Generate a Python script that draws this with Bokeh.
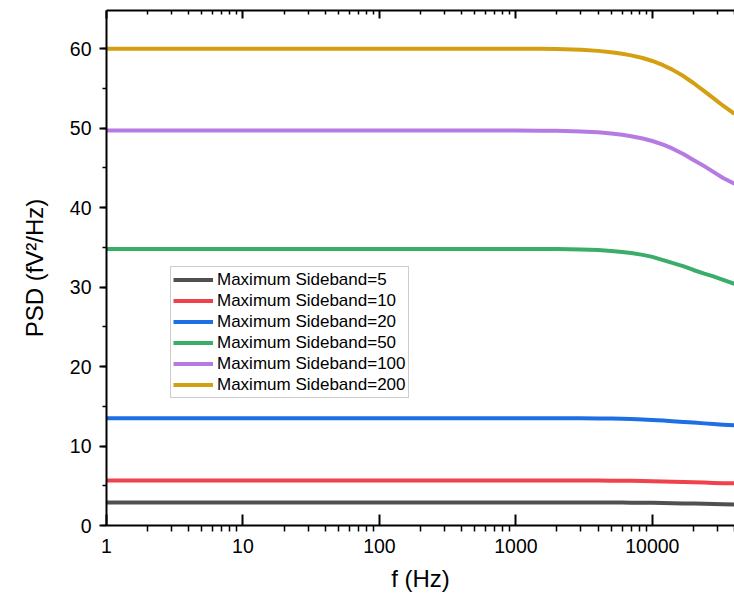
from bokeh.plotting import figure
from bokeh.models import (LogAxis, FixedTicker, Range1d, SingleIntervalTicker,
                          CustomJSTickFormatter, Legend, LegendItem)
from bokeh.embed import file_html
from bokeh.resources import INLINE

# ---- data ----
freq = [1, 10, 100, 1000, 1500, 2000, 3000, 4000, 5000, 6000, 7000, 8500,
        10000, 12000, 14000, 17000, 20000, 24000, 28000, 33000, 40000]
psd_5 = [2.9, 2.9, 2.9, 2.9, 2.9, 2.9, 2.9, 2.89, 2.89, 2.88, 2.87, 2.86,
         2.85, 2.83, 2.81, 2.78, 2.76, 2.73, 2.7, 2.67, 2.64]
psd_10 = [5.66, 5.66, 5.66, 5.66, 5.66, 5.66, 5.65, 5.65, 5.64, 5.63, 5.62, 5.6,
          5.58, 5.55, 5.52, 5.48, 5.45, 5.4, 5.36, 5.33, 5.3]
psd_20 = [13.5, 13.5, 13.5, 13.5, 13.5, 13.5, 13.49, 13.47, 13.45, 13.42, 13.39, 13.34,
          13.28, 13.2, 13.13, 13.03, 12.95, 12.85, 12.76, 12.68, 12.6]
psd_50 = [34.8, 34.8, 34.8, 34.8, 34.79, 34.78, 34.74, 34.66, 34.55, 34.42, 34.28, 34.05,
          33.8, 33.4, 33.05, 32.6, 32.15, 31.7, 31.35, 30.9, 30.4]
psd_100 = [49.7, 49.7, 49.7, 49.7, 49.68, 49.67, 49.59, 49.47, 49.32, 49.16, 48.98, 48.7,
           48.38, 47.92, 47.44, 46.72, 46.0, 45.22, 44.5, 43.72, 43.0]
psd_200 = [60.0, 60.0, 60.0, 60.0, 59.98, 59.96, 59.87, 59.72, 59.55, 59.36, 59.15, 58.82,
           58.45, 57.92, 57.36, 56.52, 55.68, 54.66, 53.78, 52.82, 51.8]

series_labels = ["Maximum Sideband=5", "Maximum Sideband=10", "Maximum Sideband=20",
                 "Maximum Sideband=50", "Maximum Sideband=100", "Maximum Sideband=200"]
series_values = [psd_5, psd_10, psd_20, psd_50, psd_100, psd_200]
series_colors = ["#505050", "#f0424a", "#1f6fe4", "#3aad6a", "#b67be2", "#d4a012"]

x_major_ticks = [1, 10, 100, 1000, 10000]
x_minor_ticks = [m * d for d in [1, 10, 100, 1000, 10000] for m in range(2, 10)]

FONT = "Liberation Sans"

p = figure(width=734, height=600, x_axis_type="log",
           x_range=Range1d(1, 40000), y_range=Range1d(0, 64.8),
           output_backend="svg", toolbar_location=None,
           min_border_left=106, min_border_right=0, min_border_top=10,
           min_border_bottom=75)
p.outline_line_color = None
p.xgrid.visible = False
p.ygrid.visible = False
p.background_fill_color = "white"

renderers = []
for vals, col in zip(series_values, series_colors):
    r = p.line(freq, vals, line_color=col, line_width=4, line_join="round")
    renderers.append(r)

# bottom axis
xa = p.xaxis[0]
xa.ticker = FixedTicker(ticks=x_major_ticks, minor_ticks=x_minor_ticks)
xa.formatter = CustomJSTickFormatter(code="return tick.toFixed(0);")
xa.axis_label = "f (Hz)"
xa.axis_label_text_font = FONT
xa.axis_label_text_font_style = "normal"
xa.axis_label_text_font_size = "24px"
xa.axis_label_text_color = "black"
xa.axis_label_standoff = 9
xa.major_label_text_font = FONT
xa.major_label_text_font_size = "19.5px"
xa.major_label_text_color = "black"
xa.major_label_standoff = 7
xa.major_tick_in = 11
xa.major_tick_out = 0
xa.minor_tick_in = 0
xa.minor_tick_out = 6
xa.axis_line_width = 2
xa.major_tick_line_width = 2
xa.minor_tick_line_width = 1.5

# top axis (no labels)
ta = LogAxis(ticker=FixedTicker(ticks=x_major_ticks, minor_ticks=x_minor_ticks),
             formatter=CustomJSTickFormatter(code="return '';"),
             major_label_text_font_size="1px", major_label_standoff=0)
ta.major_tick_in = 8
ta.major_tick_out = 0
ta.minor_tick_in = 4
ta.minor_tick_out = 0
ta.axis_line_width = 2
ta.major_tick_line_width = 2
ta.minor_tick_line_width = 1.5
p.add_layout(ta, "above")

# left axis
ya = p.yaxis[0]
ya.ticker = SingleIntervalTicker(interval=10, num_minor_ticks=2)
ya.axis_label = "PSD (fV²/Hz)"
ya.axis_label_text_font = FONT
ya.axis_label_text_font_style = "normal"
ya.axis_label_text_font_size = "24px"
ya.axis_label_text_color = "black"
ya.axis_label_standoff = 19
ya.major_label_text_font = FONT
ya.major_label_text_font_size = "19.5px"
ya.major_label_text_color = "black"
ya.major_label_standoff = 8
ya.major_tick_in = 0
ya.major_tick_out = 7
ya.minor_tick_in = 0
ya.minor_tick_out = 4
ya.axis_line_width = 2
ya.major_tick_line_width = 2
ya.minor_tick_line_width = 1.5

legend = Legend(items=[LegendItem(label=l, renderers=[r]) for l, r in zip(series_labels, renderers)],
                location=(64, 127))
legend.label_text_font = FONT
legend.label_text_font_size = "17px"
legend.label_text_color = "black"
legend.glyph_width = 40
legend.glyph_height = 21
legend.label_height = 21
legend.label_standoff = 4
legend.spacing = 0
legend.padding = 2
legend.margin = 0
legend.border_line_color = "#999999"
legend.border_line_width = 1.5
legend.background_fill_alpha = 1
p.add_layout(legend)

open("out.html", "w").write(file_html(p, INLINE))
